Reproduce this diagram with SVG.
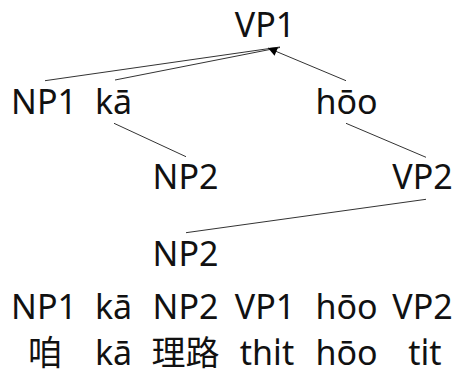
<svg xmlns="http://www.w3.org/2000/svg" width="456" height="374" viewBox="0 0 456 374">
<style>
text{font-family:"Noto Sans","Open Sans","Noto Sans CJK SC",sans-serif;font-size:34px;fill:#111;text-anchor:middle}
.cjk{font-family:"Noto Sans CJK SC","Noto Sans",sans-serif}
.c line{stroke:#333;stroke-width:1}
</style>
<defs>
<marker id="ah" viewBox="0 0 10 10" refX="10" refY="5" markerWidth="10" markerHeight="9" markerUnits="userSpaceOnUse" orient="auto">
<path d="M0,0 L10,5 L0,10 z" fill="#000"/>
</marker>
</defs>
<rect width="456" height="374" fill="#fff"/>
<g class="c" id="connectors">
<line x1="45" y1="80.7" x2="280" y2="47"/>
<line x1="115" y1="80" x2="280" y2="47.5"/>
<line x1="346" y1="80.7" x2="268" y2="48" marker-end="url(#ah)"/>
<line x1="114" y1="123.3" x2="186" y2="156.7"/>
<line x1="346" y1="123.3" x2="426" y2="157.3"/>
<line x1="426" y1="199.3" x2="186" y2="232.7"/>
</g>
<g id="vp1"><text x="265" y="37">VP1</text></g>
<g id="np1"><text x="44" y="114">NP1</text></g>
<g id="ka"><text x="113.5" y="114">kā</text></g>
<g id="hoo"><text x="346.5" y="114">hōo</text></g>
<g id="np2a"><text x="185.5" y="189">NP2</text></g>
<g id="vp2"><text x="422.5" y="189">VP2</text></g>
<g id="np2b"><text x="185.5" y="266">NP2</text></g>
<g id="row5">
<text x="44" y="319">NP1</text>
<text x="113.5" y="319">kā</text>
<text x="185.5" y="319">NP2</text>
<text x="265" y="319">VP1</text>
<text x="346.5" y="319">hōo</text>
<text x="422.5" y="319">VP2</text>
</g>
<g id="row6">
<text class="cjk" x="45" y="365">咱</text>
<text x="113.5" y="365">kā</text>
<text class="cjk" x="185.5" y="365">理路</text>
<text x="267" y="365">thi̍t</text>
<text x="346.5" y="365">hōo</text>
<text x="425" y="365">ti̍t</text>
</g>
</svg>
